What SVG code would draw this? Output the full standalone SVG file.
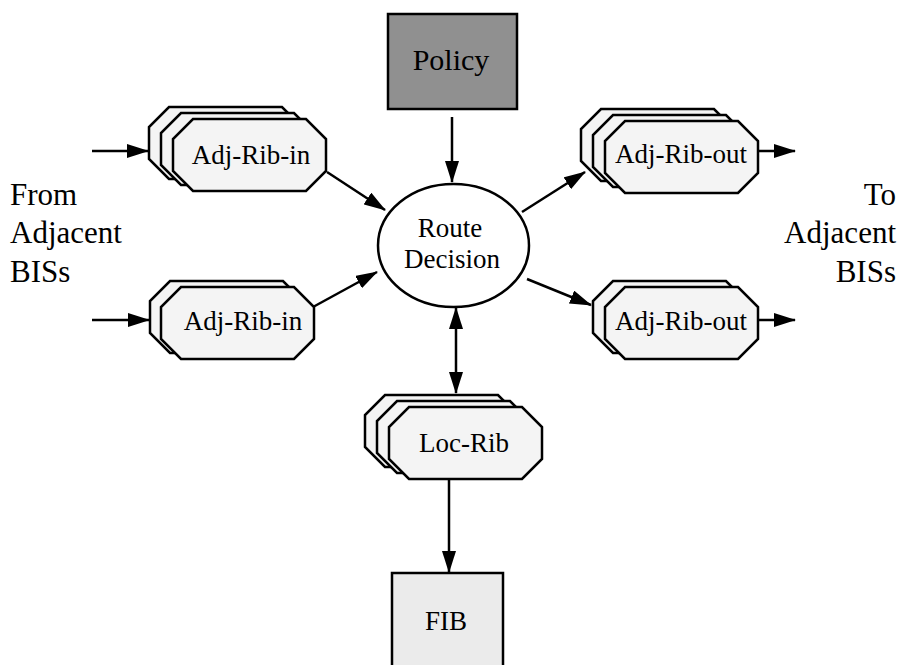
<svg xmlns="http://www.w3.org/2000/svg" xmlns:xlink="http://www.w3.org/1999/xlink" width="902" height="665" viewBox="0 0 902 665">
<style>
text{font-family:"Liberation Serif","Times New Roman",serif;fill:#000}
.lbl{font-size:27px;text-anchor:middle}
.side{font-size:31px}
.oct{fill:#f4f4f4;stroke:#000;stroke-width:2.5;stroke-linejoin:miter}
.box{stroke:#000;stroke-width:2.5}
.edge{stroke:#000;stroke-width:2.5;fill:none;marker-end:url(#ah)}
</style>
<defs>
<marker id="ah" markerUnits="userSpaceOnUse" markerWidth="22" markerHeight="14" refX="21" refY="7" orient="auto-start-reverse" viewBox="0 0 22 14">
<path d="M0,0 L22,7 L0,14 Z" fill="#000"/>
</marker>
<path id="oct" class="oct" d="M20,0 H133 L153,20 V52 L133,72 H20 L0,52 V20 Z"/>
</defs>

<g id="policy">
<rect class="box" x="388" y="14" width="129" height="95" fill="#909090"/>
<text class="lbl" x="451" y="70" style="font-size:30px">Policy</text>
</g>

<g id="route-decision">
<ellipse cx="453.5" cy="245.5" rx="75.5" ry="61.5" fill="#fff" stroke="#000" stroke-width="2.5"/>
<text class="lbl" x="450" y="237">Route</text>
<text class="lbl" x="452" y="268">Decision</text>
</g>

<g id="adj-rib-in-1">
<use xlink:href="#oct" x="149" y="107"/>
<use xlink:href="#oct" x="161" y="113"/>
<use xlink:href="#oct" x="173" y="119"/>
<text class="lbl" x="251" y="164">Adj-Rib-in</text>
</g>

<g id="adj-rib-in-2">
<use xlink:href="#oct" x="150" y="281"/>
<use xlink:href="#oct" x="161" y="287"/>
<text class="lbl" x="243" y="330">Adj-Rib-in</text>
</g>

<g id="adj-rib-out-1">
<use xlink:href="#oct" x="581" y="109"/>
<use xlink:href="#oct" x="593" y="115"/>
<use xlink:href="#oct" x="605" y="121"/>
<text class="lbl" x="681" y="163">Adj-Rib-out</text>
</g>

<g id="adj-rib-out-2">
<use xlink:href="#oct" x="593" y="281"/>
<use xlink:href="#oct" x="605" y="287"/>
<text class="lbl" x="681" y="330">Adj-Rib-out</text>
</g>

<g id="loc-rib">
<use xlink:href="#oct" x="365" y="395"/>
<use xlink:href="#oct" x="377" y="401"/>
<use xlink:href="#oct" x="389" y="407"/>
<text class="lbl" x="464" y="452">Loc-Rib</text>
</g>

<g id="fib">
<rect class="box" x="392" y="573" width="111" height="100" fill="#ebebeb"/>
<text class="lbl" x="446" y="630">FIB</text>
</g>

<g id="from-label">
<text class="side" x="10" y="205">From</text>
<text class="side" x="10" y="243">Adjacent</text>
<text class="side" x="10" y="282">BISs</text>
</g>

<g id="to-label">
<text class="side" x="896" y="205" text-anchor="end">To</text>
<text class="side" x="896" y="243" text-anchor="end">Adjacent</text>
<text class="side" x="896" y="282" text-anchor="end">BISs</text>
</g>

<g id="connectors">
<line class="edge" x1="92" y1="151" x2="148" y2="151"/>
<line class="edge" x1="92" y1="320" x2="149" y2="320"/>
<line class="edge" x1="452" y1="117" x2="452" y2="182"/>
<line class="edge" x1="327" y1="172" x2="385" y2="210"/>
<line class="edge" x1="313" y1="307" x2="377" y2="272"/>
<line class="edge" x1="522" y1="212" x2="585" y2="172"/>
<line class="edge" x1="527" y1="279" x2="591" y2="305"/>
<line class="edge" x1="758" y1="151" x2="795" y2="151"/>
<line class="edge" x1="758" y1="320" x2="795" y2="320"/>
<line class="edge" style="marker-start:url(#ah)" x1="456" y1="308" x2="456" y2="393"/>
<line class="edge" x1="449" y1="478" x2="449" y2="572"/>
</g>
</svg>
